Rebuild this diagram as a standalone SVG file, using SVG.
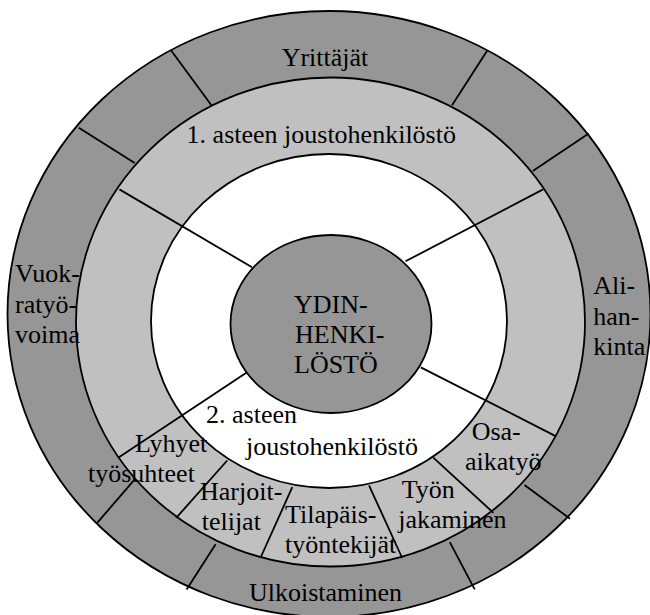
<svg xmlns="http://www.w3.org/2000/svg" width="650" height="615" viewBox="0 0 650 615">
<style>
.dark{fill:#969696;stroke:#000;stroke-width:1.8}
.light{fill:#c0c0c0;stroke:#000;stroke-width:1.8}
.white{fill:#fff;stroke:#000;stroke-width:1.8}
.ln{stroke:#000;stroke-width:1.8;fill:none}
.t{font-family:'Liberation Serif','Times New Roman','DejaVu Serif',serif;font-size:26px;fill:#000}
</style>
<rect width="650" height="615" fill="#fff"/>
<g id="outer-ring">
<ellipse class="dark" cx="329" cy="314" rx="321.5" ry="303"/>
</g>
<g id="outer-dividers" class="ln">
<line x1="171" y1="50.3" x2="211.4" y2="105.3"/>
<line x1="78.8" y1="127.7" x2="134.7" y2="163"/>
<line x1="487" y1="51" x2="452" y2="105.3"/>
<line x1="588.7" y1="133.6" x2="532.8" y2="171"/>
<line x1="570" y1="518.7" x2="524.5" y2="485"/>
<line x1="474.7" y1="589.4" x2="449.8" y2="542.2"/>
<line x1="186.6" y1="589.4" x2="215.6" y2="544.2"/>
<line x1="97.4" y1="522.6" x2="134.7" y2="479.4"/>
</g>
<g id="middle-ring">
<ellipse class="light" cx="330.5" cy="322" rx="254.5" ry="244.5"/>
</g>
<g id="inner-ring">
<ellipse class="white" cx="329" cy="321" rx="178" ry="167"/>
</g>
<g id="connectors" class="ln">
<line x1="119.4" y1="189.4" x2="252" y2="267.2"/>
<line x1="543.1" y1="189.4" x2="405.5" y2="261.3"/>
<line x1="118.2" y1="457.7" x2="246.7" y2="372.5"/>
<line x1="555.6" y1="436.1" x2="420.8" y2="367.4"/>
<line x1="227.2" y1="460.5" x2="176.2" y2="517.9"/>
<line x1="292.3" y1="487.2" x2="260.4" y2="558"/>
<line x1="369" y1="485.3" x2="402.2" y2="558"/>
<line x1="433.3" y1="457.7" x2="493.4" y2="512.8"/>
</g>
<g id="core">
<ellipse class="dark" cx="331" cy="324" rx="100.5" ry="89"/>
<text class="t" x="294" y="312.7" font-family="Liberation Serif, serif">YDIN-</text>
<text class="t" x="295" y="343.3" font-family="Liberation Serif, serif">HENKI-</text>
<text class="t" x="294" y="373.3" font-family="Liberation Serif, serif">LÖSTÖ</text>
</g>
<g id="yrittajat"><text class="t" x="281.7" y="65.7" font-family="Liberation Serif, serif">Yrittäjät</text></g>
<g id="aste1"><text class="t" x="186.6" y="142.5" font-family="Liberation Serif, serif">1. asteen joustohenkilöstö</text></g>
<g id="vuokratyovoima">
<text class="t" x="15" y="282.3" font-family="Liberation Serif, serif">Vuok-</text>
<text class="t" x="15" y="313.3" font-family="Liberation Serif, serif">ratyö-</text>
<text class="t" x="15" y="342.7" font-family="Liberation Serif, serif">voima</text>
</g>
<g id="alihankinta">
<text class="t" x="593.3" y="294.3" font-family="Liberation Serif, serif">Ali-</text>
<text class="t" x="593.3" y="325" font-family="Liberation Serif, serif">han-</text>
<text class="t" x="593.3" y="355" font-family="Liberation Serif, serif">kinta</text>
</g>
<g id="aste2">
<text class="t" x="206" y="423.3" font-family="Liberation Serif, serif">2. asteen</text>
<text class="t" x="246" y="455" font-family="Liberation Serif, serif">joustohenkilöstö</text>
</g>
<g id="lyhyet">
<text class="t" x="135" y="451.7" font-family="Liberation Serif, serif">Lyhyet</text>
<text class="t" x="88" y="481.7" font-family="Liberation Serif, serif">työsuhteet</text>
</g>
<g id="harjoittelijat">
<text class="t" x="200" y="500" font-family="Liberation Serif, serif">Harjoit-</text>
<text class="t" x="201.7" y="530" font-family="Liberation Serif, serif">telijat</text>
</g>
<g id="tilapais">
<text class="t" x="285" y="523.3" font-family="Liberation Serif, serif">Tilapäis-</text>
<text class="t" x="285" y="553" font-family="Liberation Serif, serif">työntekijät</text>
</g>
<g id="tyonjakaminen">
<text class="t" x="401.7" y="498.3" font-family="Liberation Serif, serif">Työn</text>
<text class="t" x="398.3" y="528.3" font-family="Liberation Serif, serif">jakaminen</text>
</g>
<g id="osaaikatyo">
<text class="t" x="471.7" y="440" font-family="Liberation Serif, serif">Osa-</text>
<text class="t" x="465" y="470" font-family="Liberation Serif, serif">aikatyö</text>
</g>
<g id="ulkoistaminen"><text class="t" x="249" y="601" font-family="Liberation Serif, serif">Ulkoistaminen</text></g>
</svg>
